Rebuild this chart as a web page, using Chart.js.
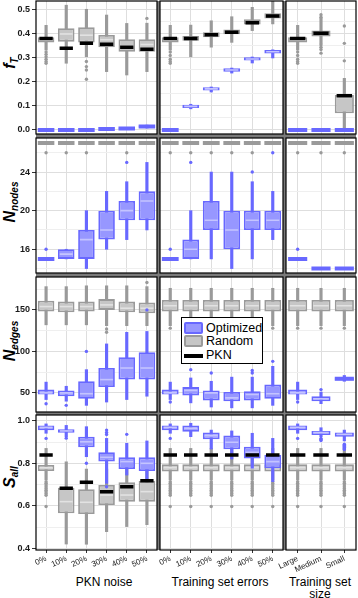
<!DOCTYPE html>
<html>
<head>
<meta charset="utf-8">
<script src="https://cdn.jsdelivr.net/npm/chart.js@4.4.1/dist/chart.umd.min.js"></script>
<style>
    body { margin: 0; width: 358px; height: 598px; position: relative; overflow: hidden; background: #fff; font-family: "Liberation Sans", Arial, sans-serif; }
    #gaps { position: absolute; left: 36px; top: 1px; width: 320px; height: 549px; background: #7a7a7a; }
    canvas { position: absolute; }
    .ytitle { position: absolute; width: 120px; height: 20px; line-height: 20px; text-align: center; transform: rotate(-90deg); font-size: 16px; font-weight: bold; font-style: italic; color: #000; }
    .ytitle sub { font-size: 10px; vertical-align: -3px; line-height: 0; }
    .xtitle { position: absolute; width: 130px; text-align: center; font-size: 12px; line-height: 12px; color: #000; }
    #legend { position: absolute; left: 181px; top: 317px; width: 82px; height: 47px; box-sizing: border-box; border: 1px solid #000; background: #fff; font-size: 12.5px; }
    #legend .row { position: absolute; left: 2px; height: 13px; line-height: 13px; }
    #legend .sw { position: absolute; left: 0; top: 0; width: 19px; height: 12px; box-sizing: border-box; border-radius: 2px; }
    #legend .txt { position: absolute; left: 22px; top: 0; white-space: nowrap; }
</style>
</head>
<body>
<div id="gaps"></div>

<div class="ytitle" style="left:-50px; top:53px">f<sub>T</sub></div>
<div class="ytitle" style="left:-50px; top:192px">N<sub>nodes</sub></div>
<div class="ytitle" style="left:-50px; top:331px">N<sub>edges</sub></div>
<div class="ytitle" style="left:-50px; top:467px">S<sub>all</sub></div>

<div class="xtitle" style="left:39px; top:576px">PKN noise</div>
<div class="xtitle" style="left:155px; top:576px">Training set errors</div>
<div class="xtitle" style="left:255px; top:576px">Training set<br>size</div>

<script>
// Categories
const noiseCats = ['0%', '10%', '20%', '30%', '40%', '50%'];
const errorCats = ['0%', '10%', '20%', '30%', '40%', '50%'];
const sizeCats = ['Large', 'Medium', 'Small'];

// Box stats: [min, q1, median, q3, max] per category

/******************* f_T *******************/
const fT_noise_rnd = [[0.333, 0.364, 0.374, 0.386, 0.436], [0.278, 0.368, 0.400, 0.424, 0.520], [0.305, 0.364, 0.395, 0.428, 0.503],
    [0.243, 0.345, 0.376, 0.396, 0.479], [0.229, 0.326, 0.350, 0.378, 0.444], [0.243, 0.326, 0.356, 0.378, 0.445]];
const fT_noise_rndOut = [[0.325, 0.315, 0.305, 0.295, 0.285, 0.278], [], [0.285, 0.264, 0.25, 0.211], [], [], [0.465]];
const fT_noise_opt = [[0, 0, 0, 0, 0], [0, 0, 0, 0, 0], [0, 0, 0, 0, 0], [0.002, 0.003, 0.004, 0.005, 0.007],
    [0.003, 0.004, 0.006, 0.007, 0.009], [0.008, 0.011, 0.014, 0.018, 0.02]];
const fT_noise_optOut = [[], [], [], [], [], []];
const fT_noise_pkn = [0.381, 0.340, 0.361, 0.357, 0.345, 0.336];

const fT_error_rnd = [[0.333, 0.364, 0.374, 0.386, 0.436], [0.305, 0.372, 0.381, 0.392, 0.437], [0.345, 0.386, 0.397, 0.407, 0.455],
    [0.365, 0.399, 0.408, 0.419, 0.472], [0.414, 0.440, 0.449, 0.461, 0.511], [0.442, 0.465, 0.475, 0.486, 0.56]];
const fT_error_rndOut = [[0.325, 0.31, 0.295, 0.285, 0.278], [], [], [], [], []];
const fT_error_opt = [[0, 0, 0, 0, 0], [0.088, 0.091, 0.098, 0.105, 0.107], [0.158, 0.164, 0.171, 0.178, 0.179],
    [0.237, 0.243, 0.25, 0.257, 0.258], [0.279, 0.289, 0.296, 0.303, 0.304], [0.30, 0.319, 0.326, 0.333, 0.334]];
const fT_error_optOut = [[], [], [], [], [], []];
const fT_error_pkn = [0.381, 0.381, 0.397, 0.407, 0.447, 0.475];

const fT_size_rnd = [[0.333, 0.364, 0.374, 0.386, 0.436], [0.36, 0.389, 0.40, 0.414, 0.465], [0.0, 0.069, 0.135, 0.146, 0.215]];
const fT_size_rndOut = [[0.325, 0.31, 0.295, 0.285, 0.278], [0.355, 0.345, 0.335, 0.32, 0.47, 0.48], [0.433, 0.361, 0.288]];
const fT_size_opt = [[0, 0, 0, 0, 0], [0, 0, 0, 0, 0], [0, 0, 0, 0, 0]];
const fT_size_optOut = [[], [], []];
const fT_size_pkn = [0.381, 0.403, 0.142];

/******************* N_nodes *******************/
const nodes_noise_rnd = [[27, 27, 27, 27, 27], [27, 27, 27, 27, 27], [27, 27, 27, 27, 27], [27, 27, 27, 27, 27], [27, 27, 27, 27, 27], [27, 27, 27, 27, 27]];
const nodes_noise_rndOut = [[26], [26], [26], [], [26], []];
const nodes_noise_opt = [[15, 15, 15, 15, 15], [15, 15, 15.5, 16, 16], [14, 15, 17, 18, 20], [16, 17, 18, 20, 22], [17, 19, 20, 21, 23], [18, 19, 21, 22, 25]];
const nodes_noise_optOut = [[16], [], [], [], [25], []];

const nodes_error_rnd = [[27, 27, 27, 27, 27], [27, 27, 27, 27, 27], [27, 27, 27, 27, 27], [27, 27, 27, 27, 27], [27, 27, 27, 27, 27], [27, 27, 27, 27, 27]];
const nodes_error_rndOut = [[26], [26], [26], [26], [26], []];
const nodes_error_opt = [[15, 15, 15, 15, 15], [15, 15, 16, 17, 20], [15, 18, 19, 21, 24], [14, 16, 18, 20, 24], [15, 18, 19, 20, 23], [17, 18, 19, 20, 22]];
const nodes_error_optOut = [[16], [25], [], [], [24], [26]];

const nodes_size_rnd = [[27, 27, 27, 27, 27], [27, 27, 27, 27, 27], [27, 27, 27, 27, 27]];
const nodes_size_rndOut = [[26], [26], [26]];
const nodes_size_opt = [[15, 15, 15, 15, 15], [14, 14, 14, 14, 14], [14, 14, 14, 14, 14]];
const nodes_size_optOut = [[16], [], []];

/******************* N_edges *******************/
const edges_noise_rnd = [[132, 148, 154, 161, 178], [132, 147, 154, 160, 178], [132, 148, 154, 160, 179],
    [131, 150, 156, 163, 179], [131, 147, 152, 160, 179], [131, 146, 152, 159, 178]];
const edges_noise_rndOut = [[], [], [], [127, 123], [], [183]];
const edges_noise_opt = [[42, 48, 50, 54, 63], [40, 46, 50, 53, 58], [35, 43, 49, 64, 78], [39, 57, 66, 80, 109], [42, 66, 80, 93, 123], [46, 66, 80, 99, 124]];
const edges_noise_optOut = [[37], [35], [100], [], [], [150]];

const edges_error_rnd = [[131, 148, 155, 162, 176], [131, 148, 155, 162, 176], [131, 148, 155, 162, 176],
    [131, 148, 155, 162, 176], [131, 148, 155, 162, 176], [131, 148, 155, 162, 176]];
const edges_error_rndOut = [[128], [128], [128], [128], [128], [128]];
const edges_error_opt = [[42, 48, 50, 54, 63], [38, 47, 53, 57, 68], [33, 41, 50, 53, 64], [32, 40, 44, 51, 69], [32, 41, 48, 52, 69], [35, 43, 49, 60, 82]];
const edges_error_optOut = [[39], [78], [74], [], [74, 77], [88]];

const edges_size_rnd = [[131, 148, 155, 162, 176], [131, 148, 155, 162, 176], [131, 148, 155, 162, 176]];
const edges_size_rndOut = [[128], [128], [128]];
const edges_size_opt = [[42, 48, 50, 54, 63], [37, 40, 43, 46, 51], [64, 65, 67, 68, 71]];
const edges_size_optOut = [[39], [54], []];

/******************* S_all *******************/
const sall_noise_rnd = [[0.722, 0.764, 0.779, 0.792, 0.87], [0.421, 0.565, 0.62, 0.685, 0.807], [0.42, 0.562, 0.617, 0.678, 0.773],
    [0.479, 0.604, 0.651, 0.698, 0.773], [0.503, 0.62, 0.651, 0.711, 0.773], [0.512, 0.62, 0.667, 0.717, 0.773]];
const sall_noise_rndOut = [[0.714, 0.706, 0.698, 0.69, 0.682, 0.674, 0.666, 0.658, 0.65, 0.597], [], [], [], [], []];
const sall_noise_opt = [[0.941, 0.955, 0.969, 0.977, 0.985], [0.925, 0.944, 0.952, 0.96, 0.978], [0.831, 0.875, 0.901, 0.925, 0.972],
    [0.706, 0.808, 0.828, 0.852, 0.917], [0.745, 0.773, 0.808, 0.828, 0.894], [0.72, 0.764, 0.80, 0.828, 0.905]];
const sall_noise_optOut = [[0.917], [0.918], [0.80], [0.956, 0.945, 0.935, 0.69], [0.936], []];
const sall_noise_pkn = [0.839, 0.683, 0.711, 0.667, 0.69, 0.718];

const sall_error_rnd = [[0.722, 0.761, 0.779, 0.795, 0.87], [0.722, 0.761, 0.779, 0.795, 0.87], [0.722, 0.761, 0.779, 0.795, 0.87],
    [0.722, 0.761, 0.779, 0.795, 0.87], [0.722, 0.761, 0.779, 0.795, 0.87], [0.722, 0.761, 0.779, 0.795, 0.87]];
const sall_error_rndOut = [
    [0.714, 0.706, 0.698, 0.69, 0.682, 0.674, 0.666, 0.658, 0.65, 0.597], [0.714, 0.706, 0.698, 0.69, 0.682, 0.674, 0.666, 0.658, 0.65, 0.597],
    [0.714, 0.706, 0.698, 0.69, 0.682, 0.674, 0.666, 0.658, 0.65, 0.597], [0.714, 0.706, 0.698, 0.69, 0.682, 0.674, 0.666, 0.658, 0.65, 0.597],
    [0.714, 0.706, 0.698, 0.69, 0.682, 0.674, 0.666, 0.658, 0.65, 0.597], [0.714, 0.706, 0.698, 0.69, 0.682, 0.674, 0.666, 0.658, 0.65, 0.597]];
const sall_error_opt = [[0.941, 0.955, 0.969, 0.977, 0.985], [0.925, 0.948, 0.964, 0.977, 0.988], [0.867, 0.913, 0.93, 0.945, 0.956],
    [0.82, 0.866, 0.899, 0.93, 0.952], [0.777, 0.823, 0.852, 0.878, 0.941], [0.714, 0.777, 0.808, 0.839, 0.917]];
const sall_error_optOut = [[0.917], [], [], [], [], []];
const sall_error_pkn = [0.839, 0.839, 0.839, 0.839, 0.839, 0.839];

const sall_size_rnd = [[0.722, 0.761, 0.779, 0.795, 0.87], [0.722, 0.761, 0.779, 0.795, 0.87], [0.722, 0.761, 0.779, 0.795, 0.87]];
const sall_size_rndOut = [[0.714, 0.706, 0.698, 0.69, 0.682, 0.674, 0.666, 0.658, 0.65, 0.597],
    [0.714, 0.706, 0.698, 0.69, 0.682, 0.674, 0.666, 0.658, 0.65, 0.597], [0.714, 0.706, 0.698, 0.69, 0.682, 0.674, 0.666, 0.658, 0.65, 0.597]];
const sall_size_opt = [[0.941, 0.955, 0.969, 0.977, 0.985], [0.925, 0.933, 0.944, 0.952, 0.967], [0.905, 0.925, 0.936, 0.945, 0.956]];
const sall_size_optOut = [[0.917], [0.917, 0.912, 0.907], [0.89, 0.885, 0.88, 0.875, 0.87, 0.865]];
const sall_size_pkn = [0.839, 0.839, 0.839];

/******************* LAYOUT *******************/
// y axis per row: range, step of grid lines, step of labelled ticks
const rows = [
    { min: -0.017, max: 0.5375, step: 0.05, major: 0.1, dec: 1, top: 1, bottom: 134 },
    { min: 13.54, max: 27.53, step: 2, major: 4, dec: 0, top: 138, bottom: 273 },
    { min: 27, max: 189.6, step: 25, major: 50, dec: 0, top: 277, bottom: 412 },
    { min: 0.393, max: 1.0268, step: 0.1, major: 0.2, dec: 1, top: 415, bottom: 550 }
];
const groups = [
    { cats: noiseCats, left: 36, right: 157 },
    { cats: errorCats, left: 160, right: 283 },
    { cats: sizeCats, left: 286, right: 356 }
];
const panelData = [
    [
        { rnd: fT_noise_rnd, rndOut: fT_noise_rndOut, opt: fT_noise_opt, optOut: fT_noise_optOut, pkn: fT_noise_pkn },
        { rnd: fT_error_rnd, rndOut: fT_error_rndOut, opt: fT_error_opt, optOut: fT_error_optOut, pkn: fT_error_pkn },
        { rnd: fT_size_rnd, rndOut: fT_size_rndOut, opt: fT_size_opt, optOut: fT_size_optOut, pkn: fT_size_pkn }
    ],
    [
        { rnd: nodes_noise_rnd, rndOut: nodes_noise_rndOut, opt: nodes_noise_opt, optOut: nodes_noise_optOut },
        { rnd: nodes_error_rnd, rndOut: nodes_error_rndOut, opt: nodes_error_opt, optOut: nodes_error_optOut },
        { rnd: nodes_size_rnd, rndOut: nodes_size_rndOut, opt: nodes_size_opt, optOut: nodes_size_optOut }
    ],
    [
        { rnd: edges_noise_rnd, rndOut: edges_noise_rndOut, opt: edges_noise_opt, optOut: edges_noise_optOut },
        { rnd: edges_error_rnd, rndOut: edges_error_rndOut, opt: edges_error_opt, optOut: edges_error_optOut },
        { rnd: edges_size_rnd, rndOut: edges_size_rndOut, opt: edges_size_opt, optOut: edges_size_optOut }
    ],
    [
        { rnd: sall_noise_rnd, rndOut: sall_noise_rndOut, opt: sall_noise_opt, optOut: sall_noise_optOut, pkn: sall_noise_pkn },
        { rnd: sall_error_rnd, rndOut: sall_error_rndOut, opt: sall_error_opt, optOut: sall_error_optOut, pkn: sall_error_pkn },
        { rnd: sall_size_rnd, rndOut: sall_size_rndOut, opt: sall_size_opt, optOut: sall_size_optOut, pkn: sall_size_pkn }
    ]
];

const randomStyle = { fill: '#c6c6c6', line: '#9a9a9a', median: '#e2e2e2', order: 5 };
const optStyle = { fill: '#9797ff', line: '#6868ff', median: '#c4c4ff', order: 1 };
const BOX_PCT = 0.82;

Chart.defaults.font.family = '"Liberation Sans", Arial, sans-serif';

const isMajor = (v, m) => Math.abs(v / m - Math.round(v / m)) < 1e-6;
const catWidth = (chart) => chart.chartArea ? chart.chartArea.width / chart.data.labels.length : 20;
// boxes thinner than 3px are drawn as a solid bar
const isFlat = (chart, s) => {
    let y = chart.scales.y;
    if (!y) return s[1] === s[3];
    return Math.abs(y.getPixelForValue(s[3]) - y.getPixelForValue(s[1])) < 3;
};

// white panel + black frame
const framePlugin = {
    id: 'frame',
    beforeDraw(chart) {
        let { ctx, chartArea: a } = chart;
        ctx.save();
        ctx.fillStyle = '#fff';
        ctx.fillRect(a.left, a.top, a.width, a.height);
        ctx.restore();
    },
    afterDraw(chart) {
        let { ctx, chartArea: a } = chart;
        ctx.save();
        ctx.strokeStyle = '#000';
        ctx.lineWidth = 1.2;
        ctx.strokeRect(a.left, a.top, a.width, a.height);
        ctx.restore();
    }
};

// whisker, box, median and outliers of one series
function boxDatasets(stats, outs, cats, st) {
    let outPoints = [];
    outs.forEach((list, i) => list.forEach(v => outPoints.push({ x: cats[i], y: v })));
    return [
        {
            type: 'bar', grouped: false, order: st.order + 3,
            data: stats.map(s => [s[0], s[4]]),
            backgroundColor: st.line, barThickness: 2.5
        },
        {
            type: 'bar', grouped: false, order: st.order + 2,
            data: stats.map(s => [s[1], s[3]]),
            backgroundColor: st.fill, borderColor: st.line, borderWidth: 1.8, borderSkipped: false,
            barPercentage: BOX_PCT, categoryPercentage: 1
        },
        {
            type: 'line', showLine: false, order: st.order + 1,
            data: outPoints,
            pointRadius: 1.7, pointBackgroundColor: st.line, pointBorderWidth: 0
        },
        {
            type: 'line', showLine: false, order: st.order,
            data: stats.map(s => s[2]),
            pointStyle: 'line',
            pointRadius: ctx => catWidth(ctx.chart) * BOX_PCT / 2 - (isFlat(ctx.chart, stats[ctx.dataIndex]) ? 0 : 1.8),
            pointBorderColor: ctx => isFlat(ctx.chart, stats[ctx.dataIndex]) ? st.line : st.median,
            pointBorderWidth: ctx => isFlat(ctx.chart, stats[ctx.dataIndex]) ? 4 : 1.6
        }
    ];
}

function makePanel(r, c) {
    let row = rows[r], grp = groups[c], d = panelData[r][c];
    let first = c === 0;
    let last = r === rows.length - 1;
    let padL = first ? 0 : 24;
    let yW = first ? grp.left : 0;
    let xH = last ? 30 : 0;
    let x0 = first ? 0 : grp.left - padL;
    let y0 = row.top - 2;
    let w = grp.right + 2 - x0;
    let h = row.bottom - row.top + 2 + (last ? xH : 2);

    let canvas = document.createElement('canvas');
    canvas.width = w;
    canvas.height = h;
    canvas.style.left = x0 + 'px';
    canvas.style.top = y0 + 'px';
    canvas.style.width = w + 'px';
    canvas.style.height = h + 'px';
    document.body.appendChild(canvas);

    let datasets = [];
    if (d.pkn) {
        datasets.push({
            type: 'line', showLine: false, order: 0,
            data: d.pkn,
            pointStyle: 'line',
            pointRadius: ctx => catWidth(ctx.chart) * 0.33,
            pointBorderColor: '#000', pointBorderWidth: 3.5
        });
    }
    datasets = datasets.concat(boxDatasets(d.opt, d.optOut, grp.cats, optStyle));
    datasets = datasets.concat(boxDatasets(d.rnd, d.rndOut, grp.cats, randomStyle));

    new Chart(canvas, {
        type: 'bar',
        data: { labels: grp.cats, datasets: datasets },
        options: {
            responsive: false,
            animation: false,
            events: [],
            layout: { autoPadding: false, padding: { left: padL, top: 2, right: 2, bottom: last ? 0 : 2 } },
            plugins: { legend: { display: false }, tooltip: { enabled: false } },
            scales: {
                x: {
                    offset: true,
                    afterFit: s => { s.height = xH; s.paddingLeft = 0; s.paddingRight = 0; },
                    ticks: {
                        display: last, autoSkip: false, minRotation: 25, maxRotation: 25, padding: 1,
                        color: '#1a1a1a', font: { size: 8 }
                    },
                    grid: { offset: false, color: '#dedede', drawTicks: last, tickLength: 3, tickColor: '#333' },
                    border: { display: false }
                },
                y: {
                    min: row.min,
                    max: row.max,
                    beginAtZero: false,
                    afterFit: s => { s.width = yW; s.paddingTop = 0; s.paddingBottom = 0; },
                    ticks: {
                        display: first, stepSize: row.step, includeBounds: false, padding: 2,
                        color: '#1a1a1a', font: { size: 9, weight: 'bold' },
                        callback: v => isMajor(v, row.major) ? (Math.abs(v) < 1e-9 ? 0 : v).toFixed(row.dec) : ''
                    },
                    grid: {
                        color: ctx => ctx.tick && isMajor(ctx.tick.value, row.major) ? '#dedede' : '#efefef',
                        drawTicks: first, tickLength: 4,
                        tickColor: ctx => ctx.tick && isMajor(ctx.tick.value, row.major) ? '#333' : 'rgba(0,0,0,0)'
                    },
                    border: { display: false }
                }
            }
        },
        plugins: [framePlugin]
    });
}

for (let r = 0; r < rows.length; r++) {
    for (let c = 0; c < groups.length; c++) {
        makePanel(r, c);
    }
}
</script>

<div id="legend">
    <div class="row" style="top:4px"><span class="sw" style="background:#9797ff; border:2px solid #6868ff"></span><span class="txt">Optimized</span></div>
    <div class="row" style="top:17px"><span class="sw" style="background:#c6c6c6; border:2px solid #9a9a9a"></span><span class="txt">Random</span></div>
    <div class="row" style="top:31px"><span class="sw" style="top:5px; height:3.5px; background:#000; border-radius:0"></span><span class="txt">PKN</span></div>
</div>
</body>
</html>
